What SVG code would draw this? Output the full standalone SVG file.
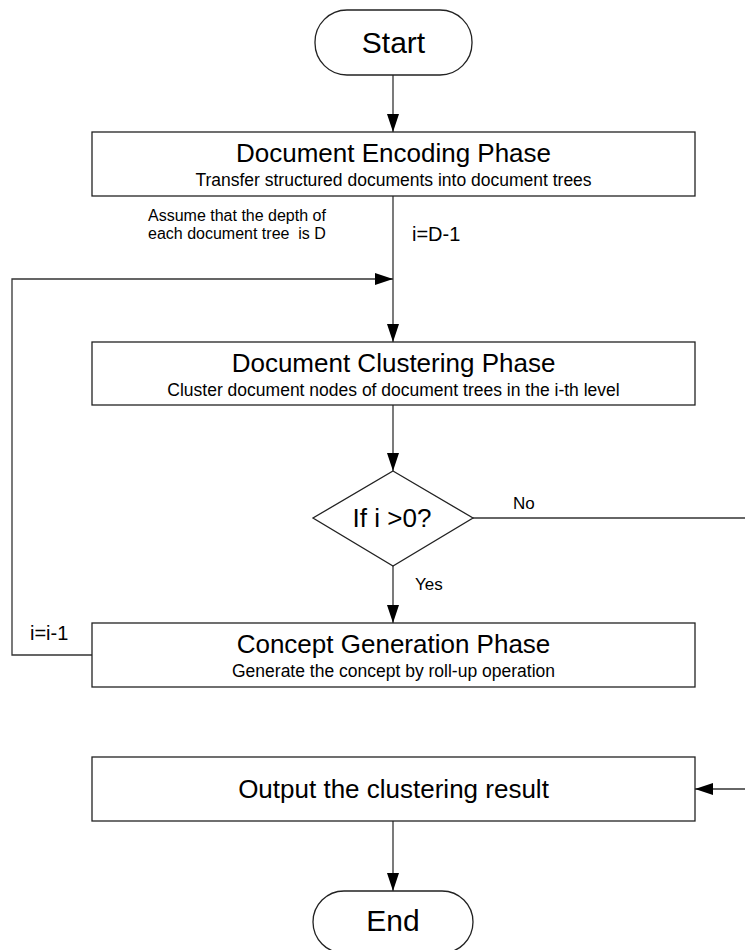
<svg xmlns="http://www.w3.org/2000/svg" width="745" height="950" viewBox="0 0 745 950">
<style>
text{font-family:"Liberation Sans",Arial,sans-serif;fill:#000}
.box{fill:#fff;stroke:#222;stroke-width:1.3}
.conn{fill:none;stroke:#333;stroke-width:1.3}
.t{font-size:26px;text-anchor:middle}
.s{font-size:17.5px;text-anchor:middle}
.term{font-size:30px;text-anchor:middle}
.lbl{font-size:17px}
.note{font-size:16px}
</style>
<defs>
<marker id="arr" markerUnits="userSpaceOnUse" markerWidth="18" markerHeight="12" refX="18" refY="6" orient="auto">
<path d="M0,0 L18,6 L0,12 Z" fill="#000"/>
</marker>
</defs>
<g id="connectors">
<line class="conn" x1="393" y1="75" x2="393" y2="132" marker-end="url(#arr)"/>
<line class="conn" x1="393" y1="196" x2="393" y2="342" marker-end="url(#arr)"/>
<polyline class="conn" points="92,655 12,655 12,279 393,279" marker-end="url(#arr)"/>
<line class="conn" x1="393" y1="405" x2="393" y2="471" marker-end="url(#arr)"/>
<line class="conn" x1="393" y1="566" x2="393" y2="623" marker-end="url(#arr)"/>
<line class="conn" x1="473" y1="518" x2="745" y2="518"/>
<line class="conn" x1="745" y1="789" x2="695" y2="789" marker-end="url(#arr)"/>
<line class="conn" x1="393" y1="821" x2="393" y2="891" marker-end="url(#arr)"/>
<text class="note" x="148" y="221">Assume that the depth of</text>
<text class="note" x="148" y="239" xml:space="preserve">each document tree  is D</text>
<text x="412" y="241" style="font-size:20px">i=D-1</text>
<text x="30" y="640" style="font-size:20px">i=i-1</text>
<text class="lbl" x="513" y="509">No</text>
<text class="lbl" x="415" y="590">Yes</text>
</g>
<g id="start">
<rect class="box" x="315" y="10" width="157" height="65" rx="32" ry="32"/>
<text class="term" x="393.5" y="53">Start</text>
</g>
<g id="encoding">
<rect class="box" x="92" y="132" width="603" height="64"/>
<text class="t" x="393.5" y="162">Document Encoding Phase</text>
<text class="s" x="393.5" y="186">Transfer structured documents into document trees</text>
</g>
<g id="clustering">
<rect class="box" x="92" y="342" width="603" height="63"/>
<text class="t" x="393.5" y="372">Document Clustering Phase</text>
<text class="s" x="393.5" y="396">Cluster document nodes of document trees in the i-th level</text>
</g>
<g id="decision">
<polygon class="box" points="393,471 473,518 393,566 313,518"/>
<text class="t" x="392" y="527">If i &gt;0?</text>
</g>
<g id="concept">
<rect class="box" x="92" y="623" width="603" height="64"/>
<text class="t" x="393.5" y="653">Concept Generation Phase</text>
<text class="s" x="393.5" y="677">Generate the concept by roll-up operation</text>
</g>
<g id="output">
<rect class="box" x="92" y="757" width="603" height="64"/>
<text class="t" x="393.5" y="798">Output the clustering result</text>
</g>
<g id="end">
<rect class="box" x="313" y="891" width="160" height="62" rx="31" ry="31"/>
<text class="term" x="393" y="931">End</text>
</g>
</svg>
